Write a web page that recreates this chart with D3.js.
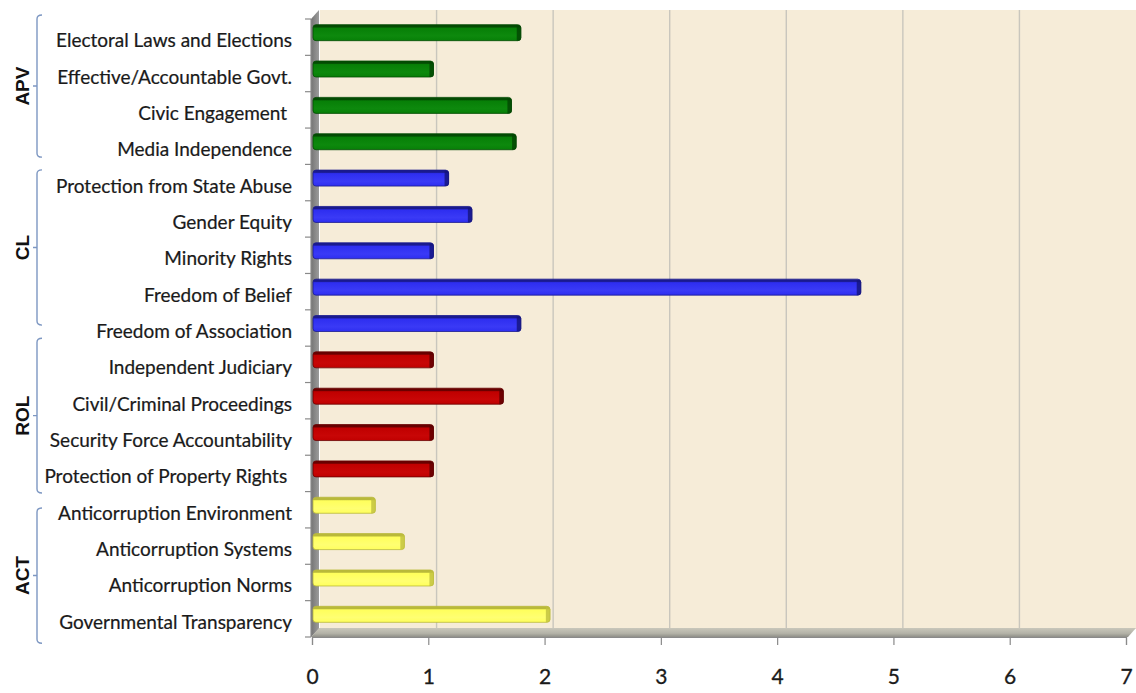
<!DOCTYPE html>
<html>
<head>
<meta charset="utf-8">
<script src="https://cdn.jsdelivr.net/npm/d3@7/dist/d3.min.js"></script>
<style>
  html, body { margin: 0; padding: 0; background: #ffffff; }
  svg { display: block; }
  text { white-space: pre; }
</style>
</head>
<body>
<svg id="chart" width="1136" height="693"></svg>
<script>
// Indicator names, top to bottom
const categories = [
  "Electoral Laws and Elections",
  "Effective/Accountable Govt.",
  "Civic Engagement ",
  "Media Independence",
  "Protection from State Abuse",
  "Gender Equity",
  "Minority Rights",
  "Freedom of Belief",
  "Freedom of Association",
  "Independent Judiciary",
  "Civil/Criminal Proceedings",
  "Security Force Accountability",
  "Protection of Property Rights ",
  "Anticorruption Environment",
  "Anticorruption Systems",
  "Anticorruption Norms",
  "Governmental Transparency"
];

// Score for each indicator
const values = [1.75, 1.0, 1.67, 1.71, 1.13, 1.33, 1.0, 4.67, 1.75, 1.0, 1.6, 1.0, 1.0, 0.5, 0.75, 1.0, 2.0];

// Which group each indicator belongs to
const groupOf = ["APV","APV","APV","APV","CL","CL","CL","CL","CL","ROL","ROL","ROL","ROL","ACT","ACT","ACT","ACT"];

// Group names in order
const groups = ["APV", "CL", "ROL", "ACT"];

// Axis tick values
const xTicks = [0, 1, 2, 3, 4, 5, 6, 7];

// ---- presentation ----
const groupColors = {
  APV: { face: "#077f07", light: "#0d890d", dark: "#034b03", side: "#024402" },
  CL:  { face: "#2e2ef0", light: "#3a3af6", dark: "#1a1a8e", side: "#14147a" },
  ROL: { face: "#c00000", light: "#c80606", dark: "#680000", side: "#5a0000" },
  ACT: { face: "#ffff5c", light: "#ffff72", dark: "#b9b93a", side: "#bfbf3e" }
};
// bracket extents in row units (start, end)
const bracketSpans = { APV: [-0.11, 3.8], CL: [4.15, 8.42], ROL: [8.78, 13.04], ACT: [13.45, 17.17] };

const svg = d3.select("#chart");
const depth = 8;                 // 3D wall offset
const front = { left: 311, top: 19, bottom: 637, right: 1128 };

const x = d3.scaleLinear().domain([0, 7]).range([312, 1126]);            // front axis
const xWall = d3.scaleLinear().domain([0, 7]).range([320, 1136]);        // back wall
const xBar = d3.scaleLinear().domain([0, 7]).range([317, 1132]);         // bar plane
const y = d3.scaleBand().domain(d3.range(categories.length)).range([front.top, front.bottom]).padding(0);
const rowY = d3.scaleLinear().domain([0, categories.length]).range([front.top, front.bottom]);

const defs = svg.append("defs");
const leftWallGrad = defs.append("linearGradient").attr("id", "leftWall").attr("x1", 0).attr("x2", 1).attr("y1", 0).attr("y2", 0);
leftWallGrad.append("stop").attr("offset", "0%").attr("stop-color", "#747474");
leftWallGrad.append("stop").attr("offset", "100%").attr("stop-color", "#9c9c9c");
const floorGrad = defs.append("linearGradient").attr("id", "floor").attr("x1", 0).attr("x2", 0).attr("y1", 0).attr("y2", 1);
floorGrad.append("stop").attr("offset", "0%").attr("stop-color", "#c9c7bb");
floorGrad.append("stop").attr("offset", "60%").attr("stop-color", "#b3b2a7");
floorGrad.append("stop").attr("offset", "100%").attr("stop-color", "#8f8f88");

groups.forEach(g => {
  const c = groupColors[g];
  const gr = defs.append("linearGradient").attr("id", "bar-" + g).attr("x1", 0).attr("x2", 0).attr("y1", 0).attr("y2", 1);
  gr.append("stop").attr("offset", "0%").attr("stop-color", c.dark);
  gr.append("stop").attr("offset", "14%").attr("stop-color", c.dark);
  gr.append("stop").attr("offset", "22%").attr("stop-color", c.face);
  gr.append("stop").attr("offset", "70%").attr("stop-color", c.light);
  gr.append("stop").attr("offset", "100%").attr("stop-color", c.face);
});

// back wall
svg.append("rect")
  .attr("x", xWall(0)).attr("y", front.top - depth - 1)
  .attr("width", xWall(7) - xWall(0)).attr("height", (front.bottom - depth) - (front.top - depth - 1))
  .attr("fill", "#f6ecd8");

// gridlines on the back wall
svg.append("g").selectAll("line").data(xTicks.filter(d => d > 0 && d < 7)).join("line")
  .attr("x1", d => xWall(d)).attr("x2", d => xWall(d))
  .attr("y1", front.top - depth - 1).attr("y2", front.bottom - depth)
  .attr("stroke", "#c9c6bd").attr("stroke-width", 1.4);

// left wall
svg.append("polygon")
  .attr("points", [[front.left, front.top], [front.left + depth, front.top - depth - 1], [front.left + depth, front.bottom - depth], [front.left, front.bottom]].map(p => p.join(",")).join(" "))
  .attr("fill", "url(#leftWall)");

// floor
svg.append("polygon")
  .attr("points", [[front.left, front.bottom], [front.left + depth, front.bottom - depth - 1], [xWall(7), front.bottom - depth - 1], [front.right, front.bottom]].map(p => p.join(",")).join(" "))
  .attr("fill", "url(#floor)");

// bars
const barH = 16;
const bars = svg.append("g").selectAll("g").data(values).join("g");
bars.each(function (v, i) {
  const g = d3.select(this);
  const c = groupColors[groupOf[i]];
  const cy = y(i) + y.bandwidth() / 2 - 4.5;
  const x0 = 313, x1 = xBar(v);
  // body
  g.append("rect")
    .attr("x", x0).attr("y", cy - barH / 2)
    .attr("width", x1 - x0).attr("height", barH)
    .attr("rx", 3)
    .attr("fill", "url(#bar-" + groupOf[i] + ")")
    .attr("stroke", c.dark).attr("stroke-width", 0.8);
  // right end face
  g.append("path")
    .attr("d", `M${x1 - 4},${cy - barH / 2 + 1} L${x1 - 1.5},${cy - barH / 2 + 1} Q${x1 + 0.5},${cy - barH / 2 + 1} ${x1 + 0.5},${cy - barH / 2 + 3} L${x1 + 0.5},${cy + barH / 2 - 3} Q${x1 + 0.5},${cy + barH / 2} ${x1 - 2.5},${cy + barH / 2} L${x1 - 4},${cy + barH / 2} Z`)
    .attr("fill", c.side).attr("opacity", 0.8);
});

// front axes
const axisColor = "#8a8a8a";
svg.append("line").attr("x1", front.left).attr("x2", front.left).attr("y1", front.top).attr("y2", front.bottom)
  .attr("stroke", axisColor).attr("stroke-width", 1.2);
svg.append("g").selectAll("line").data(d3.range(categories.length + 1)).join("line")
  .attr("x1", front.left - 6).attr("x2", front.left)
  .attr("y1", d => rowY(d)).attr("y2", d => rowY(d))
  .attr("stroke", axisColor).attr("stroke-width", 1.2);

const textFont = "Lato, 'Open Sans', sans-serif";
const xAxis = d3.axisBottom(x).tickValues(xTicks).tickSize(8).tickPadding(24).tickFormat(d3.format("d"));
const gx = svg.append("g").attr("transform", `translate(0,${front.bottom})`).call(xAxis);
gx.select(".domain").attr("stroke", axisColor).attr("stroke-width", 1.2);
gx.selectAll(".tick line").attr("stroke", axisColor).attr("stroke-width", 1.2);
gx.selectAll(".tick text")
  .attr("font-family", textFont)
  .attr("font-size", 21).attr("fill", "#1a1a1a")
  .attr("stroke", "#1a1a1a").attr("stroke-width", 0.3);

// category labels
svg.append("g").selectAll("text").data(categories).join("text")
  .attr("x", 292)
  .attr("y", (d, i) => y(i) + y.bandwidth() / 2 + 2.5)
  .attr("text-anchor", "end")
  .attr("dominant-baseline", "central")
  .attr("font-family", textFont)
  .attr("font-size", 19)
  .attr("fill", "#1a1a1a")
  .attr("stroke", "#1a1a1a").attr("stroke-width", 0.22)
  .text(d => d);

// group brackets and labels
const bracketX = 37;
const brG = svg.append("g");
groups.forEach(g => {
  const [s, e] = bracketSpans[g];
  const y0 = rowY(s), y1 = rowY(e), ym = (y0 + y1) / 2;
  brG.append("path")
    .attr("d", `M${bracketX + 5},${y0} Q${bracketX},${y0} ${bracketX},${y0 + 4} L${bracketX},${y1 - 4} Q${bracketX},${y1} ${bracketX + 5},${y1} M${bracketX},${ym} L${bracketX - 4},${ym}`)
    .attr("fill", "none").attr("stroke", "#7d97c2").attr("stroke-width", 1.4);
  brG.append("text")
    .attr("transform", `translate(${bracketX - 15},${ym}) rotate(-90)`)
    .attr("text-anchor", "middle")
    .attr("dominant-baseline", "central")
    .attr("font-family", "'Liberation Sans', Arial, sans-serif")
    .attr("font-weight", "bold")
    .attr("font-size", 19)
    .attr("fill", "#111")
    .text(g);
});
</script>
</body>
</html>
